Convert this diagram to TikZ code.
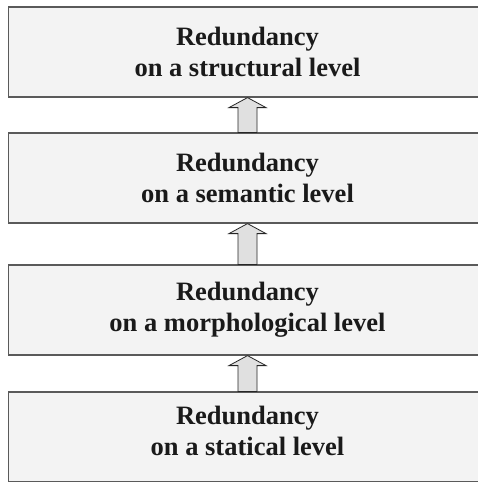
\documentclass[tikz,border=0pt]{standalone}
\usepackage{fontspec}
\setmainfont{Liberation Serif}
\usetikzlibrary{calc}
\definecolor{boxfill}{HTML}{F3F3F3}
\definecolor{boxline}{HTML}{5A5A5A}
\definecolor{arrowfill}{HTML}{E0E0E0}
\definecolor{textcol}{HTML}{1A1A1A}
\tikzset{
  leveltext/.style={align=center, inner sep=0pt, text=textcol,
    font=\fontsize{26.5}{31}\selectfont\bfseries},
  levelbox/.style={leveltext, draw=boxline, line width=1.2pt, fill=boxfill,
    rectangle, minimum width=478pt, minimum height=90pt},
  blockarrow/.style={draw=black!85, line width=0.8pt, fill=arrowfill, line join=miter},
}
% block arrow from the top of #1 up to the bottom of #2
\newcommand{\uparrowbox}[2]{%
  \draw[blockarrow] ($(#1.north)+(-9.5,0)$) -- ($(#2.south)+(-9.5,10)$)
    -- ($(#2.south)+(-18.5,10)$) -- (#2.south) -- ($(#2.south)+(18.5,10)$)
    -- ($(#2.south)+(9.5,10)$) -- ($(#1.north)+(9.5,0)$) -- cycle;}
\begin{document}
\begin{tikzpicture}[x=1pt, y=-1pt]
  \useasboundingbox (0,0) rectangle (478,482);
  \clip (0,0) rectangle (478,482);
  \fill[white] (0,0) rectangle (478,482);
  \node[levelbox] (struct) at (247.5,52)  {Redundancy\\on a structural level};
  \node[levelbox] (seman)  at (247.5,178) {Redundancy\\on a semantic level};
  \node[levelbox] (morph)  at (247.5,310) {Redundancy\\on a morphological level};
  \node[levelbox] (stat)   at (247.5,437) {};
  \node[leveltext] (stattext) at ($(stat.center)+(0,-6)$) {Redundancy\\on a statical level};
  \uparrowbox{seman}{struct}
  \uparrowbox{morph}{seman}
  \uparrowbox{stat}{morph}
\end{tikzpicture}
\end{document}
